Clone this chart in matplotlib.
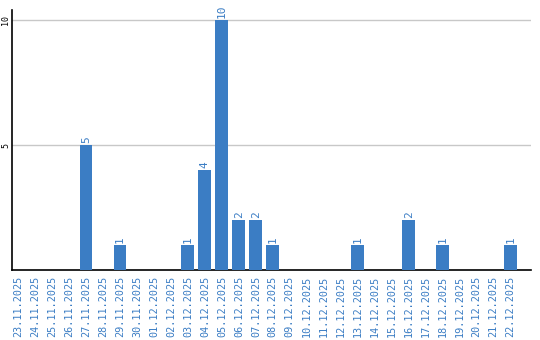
import pandas as pd
import matplotlib.pyplot as plt

dates = pd.date_range("2025-11-23", "2025-12-22", freq="D")
date_labels = [d.strftime("%d.%m.%Y") for d in dates]
counts = {
    "27.11.2025": 5, "29.11.2025": 1, "03.12.2025": 1, "04.12.2025": 4,
    "05.12.2025": 10, "06.12.2025": 2, "07.12.2025": 2, "08.12.2025": 1,
    "13.12.2025": 1, "16.12.2025": 2, "18.12.2025": 1, "22.12.2025": 1,
}
values = [counts.get(lbl, 0) for lbl in date_labels]

bar_color = "#3b7dc4"
label_color = "#3b7dc4"

fig = plt.figure(figsize=(5.4, 3.4), dpi=100)
ax = fig.add_axes([12 / 540, 70 / 340, 519 / 540, 260 / 340])

x = list(range(len(values)))
ax.bar(x, values, width=0.76, color=bar_color, zorder=3)
for xi, v in zip(x, values):
    if v > 0:
        ax.text(xi, v + 0.08, str(v), rotation=90, ha="center", va="bottom",
                color=label_color, fontsize=8, family="DejaVu Sans Mono")

ax.set_xlim(-0.36, 30.2)
ax.set_ylim(0, 10.4)
ax.set_yticks([5, 10])
ax.set_yticklabels(["5", "10"], rotation=90, va="center", fontsize=6,
                   family="DejaVu Sans Mono")
ax.yaxis.grid(True, color="#c8c8c8", linewidth=1, zorder=0)
ax.tick_params(axis="y", length=0, pad=1.5)

ax.set_xticks(x)
ax.set_xticklabels(date_labels, rotation=90, fontsize=7.3, color=label_color,
                   family="DejaVu Sans Mono", va="top")
ax.tick_params(axis="x", length=0, pad=4)

for side in ["top", "right"]:
    ax.spines[side].set_visible(False)
ax.spines["left"].set_linewidth(1.2)
ax.spines["bottom"].set_linewidth(1.2)

fig.savefig("out.png", dpi=100)
